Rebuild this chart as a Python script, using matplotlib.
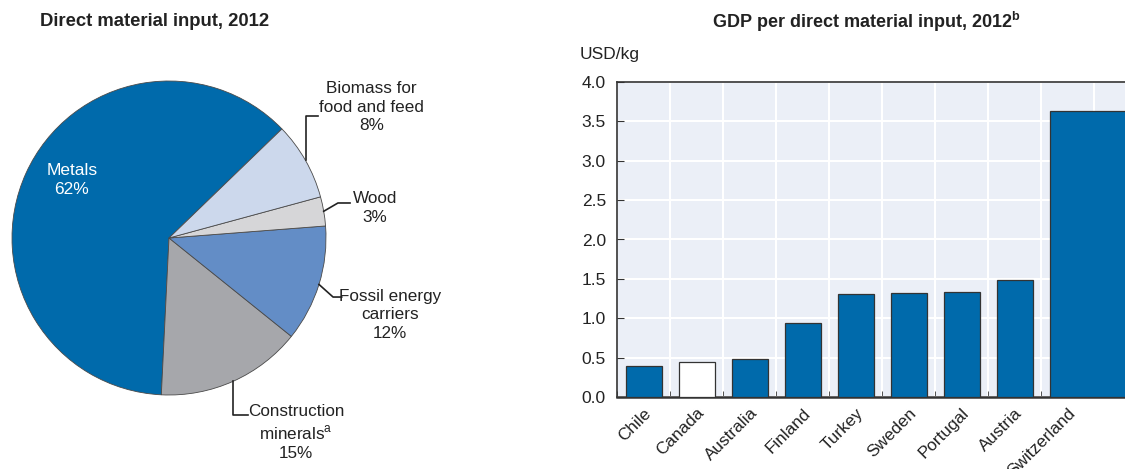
import numpy as np
import matplotlib.pyplot as plt

plt.rcParams['font.family'] = ['Liberation Sans', 'DejaVu Sans']

# pie: direct material input shares (%)
materials = ['Metals', 'Construction minerals', 'Fossil energy carriers', 'Wood', 'Biomass for food and feed']
shares = [62, 15, 12, 3, 8]
pie_colors = ['#006aab', '#a6a7ab', '#638dc6', '#d6d6d8', '#ccd8ec']

# bars: GDP per direct material input (USD/kg)
countries = ['Chile', 'Canada', 'Australia', 'Finland', 'Turkey', 'Sweden', 'Portugal', 'Austria', 'Switzerland']
gdp_per_dmi = [0.40, 0.44, 0.48, 0.94, 1.31, 1.32, 1.33, 1.49, 3.63]
bar_colors = ['#006aab', '#ffffff'] + ['#006aab'] * 7

W, H = 1125, 469
fig = plt.figure(figsize=(W / 100, H / 100), dpi=100)

# ---- pie ----
cx, cy, r = 169, 238, 157
ax1 = fig.add_axes([(cx - r) / W, (H - cy - r) / H, 2 * r / W, 2 * r / H])
wedges, _ = ax1.pie(shares, colors=pie_colors, startangle=44, counterclock=True,
                    wedgeprops=dict(edgecolor='#4a4a4a', linewidth=0.6))
ax1.set_xlim(-1, 1)
ax1.set_ylim(-1, 1)
ax1.set_aspect('equal')
ax1.axis('off')

ax1.text(-0.618, 0.369, 'Metals\n62%', color='white', ha='center', va='center',
         fontsize=12.5, linespacing=1.3)

def mid_point(w):
    a = np.deg2rad((w.theta1 + w.theta2) / 2)
    return np.cos(a), np.sin(a)

# leader lines: rim point -> elbow -> end, then label
leaders = {
    4: ([(0.0, 0.777), (0.949, 0.777)], 'Biomass for\nfood and feed\n8%', (1.29, 0.834)),
    3: ([(1.076, 0.223), (1.153, 0.223)], 'Wood\n3%', (1.312, 0.19)),
    2: ([(1.045, -0.376), (1.10, -0.376)], 'Fossil energy\ncarriers\n12%', (1.41, -0.49)),
    1: ([(0.0, -1.127), (0.503, -1.127)], 'Construction\nminerals$^{\\mathregular{a}}$\n15%', (0.81, -1.24)),
}
for i, (pts, label, pos) in leaders.items():
    x0, y0 = mid_point(wedges[i])
    (ex, ey), (fx, fy) = pts
    if ex == 0.0:
        ex = x0
    ax1.plot([x0, ex, fx], [y0, ey, fy], color='#222222', lw=1.2, clip_on=False)
    ax1.text(pos[0], pos[1], label, ha='center', va='center', fontsize=12.3,
             linespacing=1.3, color='#222222', clip_on=False)

fig.text(40 / W, 1 - 22 / H, 'Direct material input, 2012', fontsize=13.3,
         fontweight='bold', va='center', ha='left', color='#222222')

# ---- bars ----
slot = 53
left, top, bottom = 617, 82, 397
nslots = 10
ax2 = fig.add_axes([left / W, (H - bottom) / H, nslots * slot / W, (bottom - top) / H])
ax2.set_facecolor('#ebeff7')
x = np.arange(len(countries))
widths = [0.68] * (len(countries) - 1) + [1.6]
ax2.bar(x - 0.33, gdp_per_dmi, width=widths, align='edge', color=bar_colors,
        edgecolor='#333333', linewidth=0.9, zorder=3)
ax2.set_xlim(-0.5, nslots - 0.5)
ax2.set_ylim(0, 4.0)
ax2.set_yticks(np.arange(0, 4.01, 0.5))
ax2.set_yticklabels([f'{v:.1f}' for v in np.arange(0, 4.01, 0.5)], fontsize=12.5, color='#222222')
ax2.set_xticks(np.arange(-0.5, nslots, 1.0), minor=True)
ax2.set_xticks(x)
ax2.set_xticklabels(countries, rotation=45, ha='right', va='top', rotation_mode='anchor',
                    fontsize=12.3, color='#222222')
ax2.tick_params(axis='x', which='major', length=0, pad=6)
ax2.tick_params(axis='x', which='minor', direction='in', length=4, color='#333333')
ax2.tick_params(axis='y', direction='in', length=5, pad=8, color='#333333')
ax2.grid(axis='y', color='white', lw=1.5, zorder=0)
ax2.grid(axis='x', which='minor', color='white', lw=1.5, zorder=0)
for s in ['left', 'bottom', 'top']:
    ax2.spines[s].set_color('#333333')
    ax2.spines[s].set_linewidth(1.2)
ax2.spines['bottom'].set_linewidth(1.8)
ax2.spines['right'].set_visible(False)
ax2.set_axisbelow(True)

fig.text(580 / W, 1 - 55 / H, 'USD/kg', fontsize=12.5, va='center', ha='left', color='#222222')
fig.text(866 / W, 1 - 22 / H, 'GDP per direct material input, 2012$^{\\mathregular{b}}$',
         fontsize=13, fontweight='bold', va='center', ha='center', color='#222222')

fig.savefig('out.png', dpi=100)
